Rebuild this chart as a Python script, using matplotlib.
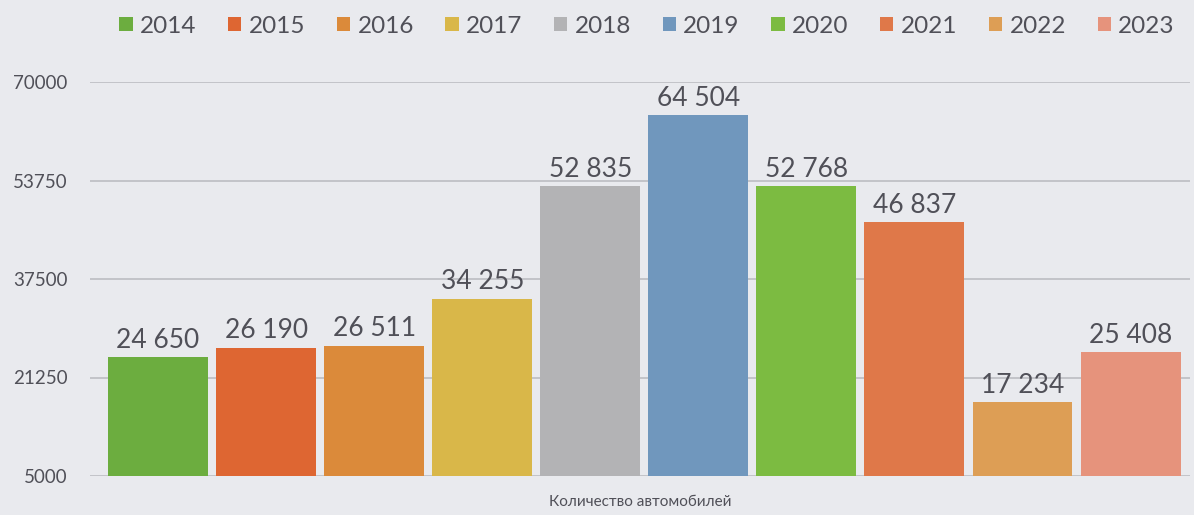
import matplotlib
matplotlib.use('Agg')
import matplotlib.pyplot as plt
from matplotlib.patches import Patch

years = ['2014', '2015', '2016', '2017', '2018', '2019', '2020', '2021', '2022', '2023']
cars = [24650, 26190, 26511, 34255, 52835, 64504, 52768, 46837, 17234, 25408]
colors = ['#6cad3f', '#de6632', '#db8a3a', '#d9b749', '#b3b3b5', '#7097bd',
          '#7cbb41', '#df7849', '#dd9e55', '#e6937c']
yticks = [5000, 21250, 37500, 53750, 70000]
xlabel = 'Количество автомобилей'

plt.rcParams['font.family'] = ['Lato', 'DejaVu Sans']
TXT = '#505058'
BG = '#e9eaee'

fig = plt.figure(figsize=(11.94, 5.15), dpi=100, facecolor=BG)
ax = fig.add_axes([90 / 1194, 39 / 515, 1100 / 1194, 394 / 515])
ax.set_facecolor(BG)

xs = list(range(len(years)))
base = yticks[0]
ax.bar(xs, [v - base for v in cars], bottom=base, width=0.925,
       color=colors, edgecolor='none', zorder=3)

for x, v in zip(xs, cars):
    label = f'{v:,}'.replace(',', ' ')
    ax.text(x, v + 700, label, ha='center', va='bottom',
            fontsize=19, color=TXT, zorder=4)

ax.set_xlim(-0.63, 9.55)
ax.set_ylim(yticks[0], yticks[-1])
ax.set_yticks(yticks)
ax.set_yticklabels([str(t) for t in yticks], fontsize=13.5, color=TXT)
ax.tick_params(axis='y', length=0, pad=16)
ax.set_xticks([])
ax.yaxis.grid(True, color='#bcbdc2', lw=1.2, zorder=0)
for s in ax.spines.values():
    s.set_visible(False)

ax.set_xlabel(xlabel, fontsize=11, color=TXT, labelpad=14)

handles = [Patch(facecolor=c, edgecolor='none') for c in colors]
fig.legend(handles, years, loc='upper center', ncol=len(years),
           bbox_to_anchor=(647 / 1194, 1.012), frameon=False,
           fontsize=17.5, labelcolor=TXT, handlelength=0.55, handleheight=0.55,
           handletextpad=0.3, columnspacing=1.3)

fig.savefig('out.png', dpi=100, facecolor=BG)
